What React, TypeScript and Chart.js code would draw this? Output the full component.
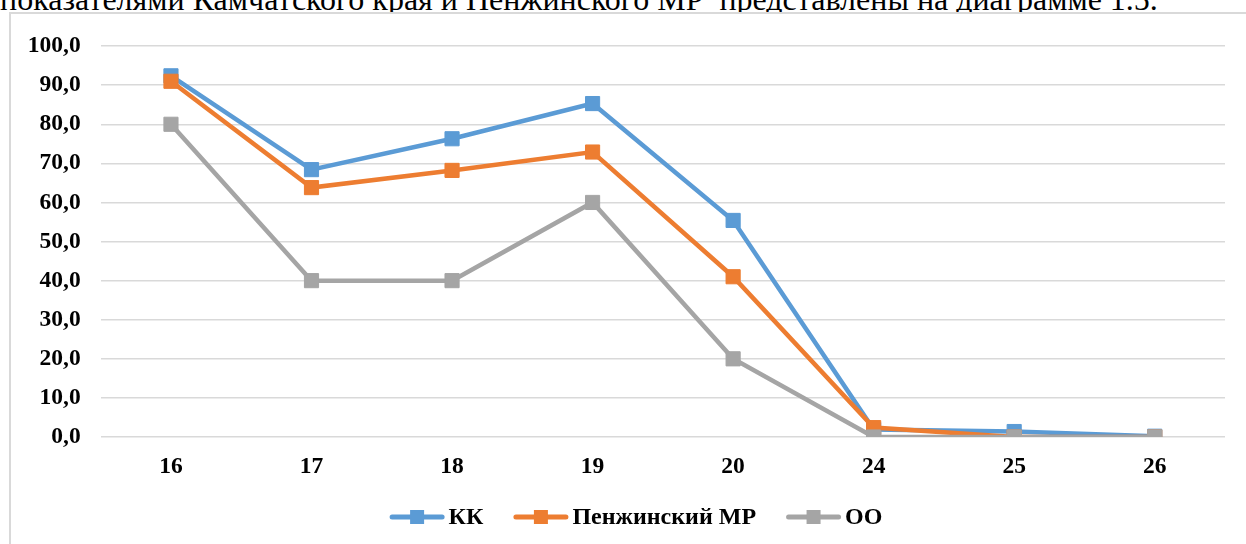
import React, { useEffect, useRef } from "react";
import { Chart, registerables } from "chart.js";

Chart.register(...registerables);

const categories = ["16", "17", "18", "19", "20", "24", "25", "26"];
const kkValues = [92.4, 68.4, 76.3, 85.3, 55.4, 1.9, 1.4, 0.2];
const penzhValues = [91.0, 63.8, 68.2, 72.9, 41.0, 2.4, 0, 0];
const ooValues = [80, 40, 40, 60, 20, 0, 0, 0];
const seriesNames = ["КК", "Пенжинский МР", "ОО"];
const seriesColors = ["#5B9BD5", "#ED7D31", "#A5A5A5"];
const yMin = 0;
const yMax = 100;
const yStep = 10;

const FONT_FAMILY = '"Liberation Serif", "Times New Roman", serif';
const TICK_FONT_SIZE = 23.5;
const LEGEND_FONT_SIZE = 24;

const legendPlugin = {
  id: "customLegend",
  afterDraw(chart: any) {
    const ctx = chart.ctx as CanvasRenderingContext2D;
    const datasets = chart.data.datasets;
    ctx.save();
    ctx.font = `bold ${LEGEND_FONT_SIZE}px ${FONT_FAMILY}`;
    const markerW = 55;
    const gapText = 4;
    const gapItem = 30;
    const widths = datasets.map(
      (ds: any) => markerW + gapText + ctx.measureText(ds.label).width
    );
    const total =
      widths.reduce((a: number, b: number) => a + b, 0) +
      gapItem * (datasets.length - 1);
    let x = chart.width / 2 - total / 2;
    const y = 505;
    datasets.forEach((ds: any, i: number) => {
      const color = ds.borderColor;
      ctx.strokeStyle = color;
      ctx.lineWidth = 5;
      ctx.lineCap = "round";
      ctx.beginPath();
      ctx.moveTo(x + 2.5, y);
      ctx.lineTo(x + markerW - 2.5, y);
      ctx.stroke();
      ctx.fillStyle = color;
      const s = 14;
      ctx.fillRect(x + markerW / 2 - s / 2, y - s / 2, s, s);
      ctx.fillStyle = "#000";
      ctx.textBaseline = "middle";
      ctx.textAlign = "left";
      ctx.fillText(ds.label, x + markerW + gapText, y + 1);
      x += widths[i] + gapItem;
    });
    ctx.restore();
  },
};

function makeDataset(label: string, data: number[], color: string, order: number) {
  return {
    label,
    data,
    borderColor: color,
    backgroundColor: color,
    borderWidth: 4.5,
    pointStyle: "rect" as const,
    pointRadius: 10,
    pointHoverRadius: 10,
    pointBorderWidth: 1,
    pointBackgroundColor: color,
    pointBorderColor: color,
    tension: 0,
    order,
  };
}

export default function App() {
  const canvasRef = useRef<HTMLCanvasElement | null>(null);

  useEffect(() => {
    if (!canvasRef.current) return;
    const chart = new Chart(canvasRef.current, {
      type: "line",
      data: {
        labels: categories,
        datasets: [
          makeDataset(seriesNames[0], kkValues, seriesColors[0], 3),
          makeDataset(seriesNames[1], penzhValues, seriesColors[1], 2),
          makeDataset(seriesNames[2], ooValues, seriesColors[2], 1),
        ],
      },
      options: {
        responsive: false,
        animation: false,
        devicePixelRatio: 1,
        layout: { padding: { top: 29.5, right: 38, bottom: 0, left: 0 } },
        plugins: {
          legend: { display: false },
          tooltip: { enabled: false },
          title: { display: false },
        },
        scales: {
          x: {
            offset: true,
            grid: { display: false, drawTicks: false },
            border: { display: false },
            ticks: {
              color: "#000",
              padding: 16,
              font: { family: FONT_FAMILY, size: TICK_FONT_SIZE, weight: "bold" },
              maxRotation: 0,
              autoSkip: false,
            },
            afterFit(scale: any) {
              scale.height = 115;
            },
          },
          y: {
            min: yMin,
            max: yMax,
            grid: { color: "#d9d9d9", lineWidth: 1.5, drawTicks: false },
            border: { display: false },
            ticks: {
              stepSize: yStep,
              color: "#000",
              padding: 20,
              font: { family: FONT_FAMILY, size: TICK_FONT_SIZE, weight: "bold" },
              callback: (v: any) => Number(v).toFixed(1).replace(".", ","),
            },
            afterFit(scale: any) {
              scale.width = 91.7;
            },
          },
        },
      },
      plugins: [legendPlugin],
    });
    return () => chart.destroy();
  }, []);

  return (
    <div
      style={{
        position: "fixed",
        left: 0,
        top: 0,
        width: 1246,
        height: 544,
        overflow: "hidden",
        background: "#fff",
      }}
    >
      <div
        style={{
          position: "absolute",
          left: 0,
          top: -16.8,
          fontFamily: FONT_FAMILY,
          fontSize: 32,
          lineHeight: "32px",
          color: "#000",
          whiteSpace: "pre",
        }}
      >
        показателями Камчатского края и Пенжинского МР  представлены на диаграмме 1.5.
      </div>
      <div
        style={{
          position: "absolute",
          left: 9,
          top: 12,
          width: 1254,
          height: 540,
          borderLeft: "2px solid #d9d9d9",
          borderTop: "2px solid #d9d9d9",
          boxSizing: "border-box",
          background: "#fff",
        }}
      />
      <canvas
        ref={canvasRef}
        width={1254}
        height={540}
        style={{ position: "absolute", left: 9, top: 12, width: 1254, height: 540 }}
      />
    </div>
  );
}
